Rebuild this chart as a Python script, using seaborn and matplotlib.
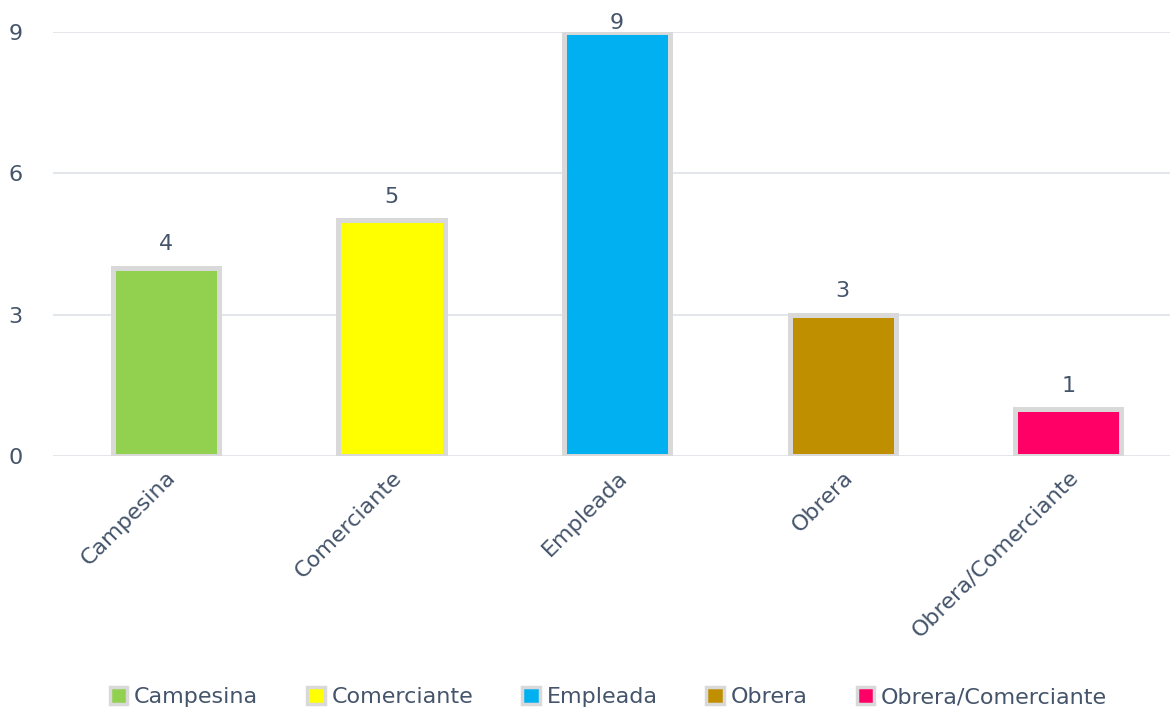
import matplotlib
matplotlib.use("Agg")
import matplotlib.pyplot as plt
from matplotlib.patches import Patch
import pandas as pd
import seaborn as sns

categories = ["Campesina", "Comerciante", "Empleada", "Obrera", "Obrera/Comerciante"]
counts = [4, 5, 9, 3, 1]
colors = ["#92D050", "#FFFF00", "#00B0F0", "#BF8F00", "#FF0066"]
y_ticks = [0, 3, 6, 9]

text_color = "#44546A"
edge_color = "#D9D9D9"

df = pd.DataFrame({"Ocupacion": categories, "Cantidad": counts})
palette = dict(zip(categories, colors))

sns.set_theme(style="white")
plt.rcParams["font.family"] = ["DejaVu Sans"]

fig = plt.figure(figsize=(11.7, 7.13), dpi=100)
ax = fig.add_axes([53 / 1170, 1 - 456 / 713, 1 - 53 / 1170, (456 - 32) / 713])

sns.barplot(
    df,
    x="Ocupacion",
    y="Cantidad",
    hue="Ocupacion",
    palette=palette,
    saturation=1,
    dodge=False,
    width=0.47,
    edgecolor=edge_color,
    linewidth=3.6,
    legend=False,
    ax=ax,
)

ymax = 9
ax.set_ylim(0, ymax)

# value labels above bars, squeezed down at the top like in the original
for bar, val in zip(ax.patches, counts):
    ax.text(
        bar.get_x() + bar.get_width() / 2,
        min(val + 0.28, ymax - 0.02),
        str(val),
        ha="center",
        va="bottom",
        fontsize=16,
        color=text_color,
        clip_on=False,
    )

ax.set_xlim(-0.5, 4.45)
ax.set_yticks(y_ticks)
ax.yaxis.grid(True, color="#E1E5EA", linewidth=1.3)
ax.set_axisbelow(True)
ax.tick_params(axis="y", length=0, pad=22, labelsize=16, labelcolor=text_color)
ax.tick_params(axis="x", length=0, pad=8, labelsize=16, labelcolor=text_color)
plt.setp(ax.get_xticklabels(), rotation=45, ha="right", rotation_mode="anchor")
ax.set(xlabel="", ylabel="")
sns.despine(ax=ax, left=True, bottom=True)

handles = [Patch(facecolor=c, edgecolor=edge_color, linewidth=2.5) for c in colors]
fig.legend(
    handles,
    categories,
    loc="center",
    bbox_to_anchor=(0.52, 1 - 697 / 713),
    ncol=5,
    frameon=False,
    fontsize=16,
    labelcolor=text_color,
    handlelength=0.8,
    handleheight=0.8,
    handletextpad=0.3,
    columnspacing=2.2,
)

fig.savefig("out.png", dpi=100)
